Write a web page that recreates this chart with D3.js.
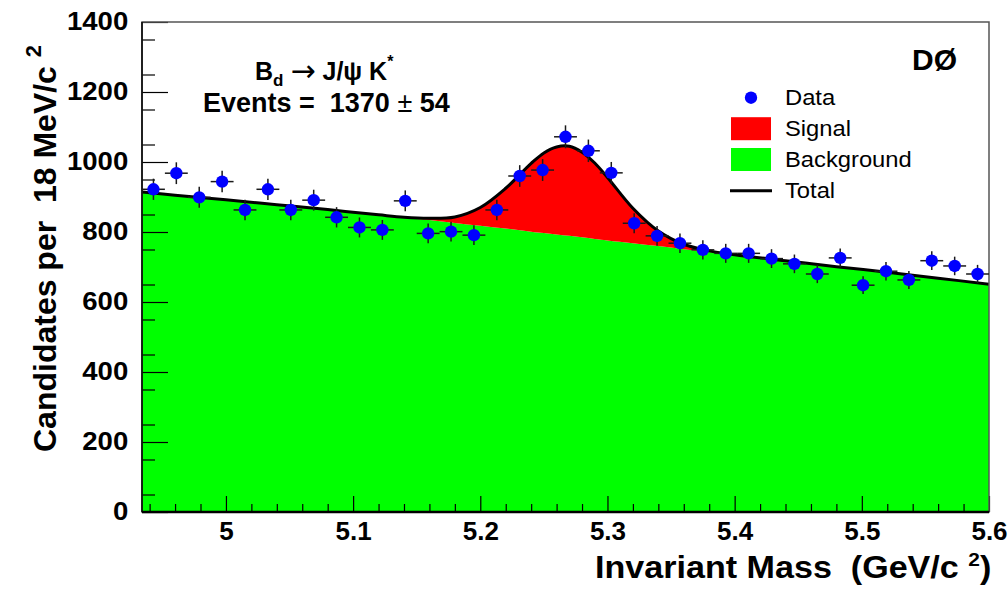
<!DOCTYPE html>
<html><head><meta charset="utf-8">
<script src="https://cdn.jsdelivr.net/npm/d3@7"></script>
<style>
html,body{margin:0;padding:0;background:#fff;}
svg{display:block;font-family:"Liberation Sans",Arial,Helvetica,sans-serif;}
text{white-space:pre;}
</style></head>
<body><svg id="c" width="1008" height="592"></svg>
<script>
// ---- data ----
const binWidth = 0.018;
const massMin = 4.934, massMax = 5.6;
// bin centres of the 37 data points (GeV/c^2)
const dataMass = [4.943,4.961,4.979,4.997,5.015,5.033,5.051,5.069,5.087,5.105,5.123,5.141,5.159,
  5.177,5.195,5.213,5.231,5.249,5.267,5.285,5.303,5.321,5.339,5.357,5.375,
  5.393,5.411,5.429,5.447,5.465,5.483,5.501,5.519,5.537,5.555,5.573,5.591];
const dataCounts = [922,968,899,944,863,922,863,891,842,813,806,889,796,
  801,791,863,960,977,1072,1032,969,825,789,768,749,
  739,739,724,709,680,726,648,688,663,718,703,680];
// fit curves
const fitMass = [4.934,4.96,5.0,5.04,5.08,5.12,5.14,5.16,5.18,5.20,5.22,5.24,5.25,5.26,5.27,5.28,5.29,5.30,5.32,5.34,5.36,5.38,5.40,5.44,5.48,5.52,5.56,5.60];
const fitBackground = [914,905,892,878,864,849,841,834,826,818,810,801,797,793,789,785,780,776,768,760,751,743,735,718,701,685,668,651];
const fitSignal = [0,0,0,0,0,0,1,5,17,52,115,195,229,250,256,243,217,180,100,43,14,3,0,0,0,0,0,0];
const xTicks = [5.0,5.1,5.2,5.3,5.4,5.5,5.6];
const xTickLabels = ["5","5.1","5.2","5.3","5.4","5.5","5.6"];
const yTicks = [0,200,400,600,800,1000,1200,1400];
const legendItems = ["Data","Signal","Background","Total"];

// ---- drawing ----
const svg = d3.select("#c");
const L=142, R=989, T=22, B=512;
const x = d3.scaleLinear().domain([massMin, massMax]).range([L, R]);
const y = d3.scaleLinear().domain([0, 1400]).range([B, T]);

svg.append("rect").attr("width",1008).attr("height",592).attr("fill","#fff");
svg.append("defs").append("clipPath").attr("id","plotclip")
  .append("rect").attr("x",L).attr("y",T).attr("width",R-L).attr("height",B-T);

const fit = fitMass.map((m,i)=>({m, bg:fitBackground[i], tot:fitBackground[i]+fitSignal[i]}));
const curve = d3.curveCatmullRom;
const g = svg.append("g").attr("clip-path","url(#plotclip)");
g.append("path").datum(fit)
  .attr("d", d3.area().x(d=>x(d.m)).y0(y(0)).y1(d=>y(d.bg)).curve(curve))
  .attr("fill","#00ff00");
g.append("path").datum(fit)
  .attr("d", d3.area().x(d=>x(d.m)).y0(d=>y(d.bg)).y1(d=>y(d.tot)).curve(curve))
  .attr("fill","#ff0000");
g.append("path").datum(fit)
  .attr("d", d3.line().x(d=>x(d.m)).y(d=>y(d.tot)).curve(curve))
  .attr("fill","none").attr("stroke","#000").attr("stroke-width",3);

// axes (ticks inside)
const xMinor = d3.range(4.94, 5.6001, 0.02).map(v=>+v.toFixed(2)).filter(v=>Math.abs(v*10-Math.round(v*10))>1e-6);
const yMinor = d3.range(50, 1400, 100);
const axStyle = sel => { sel.select(".domain").remove(); sel.selectAll(".tick line").attr("stroke","#000").attr("stroke-width",1.2); };

svg.append("g").attr("transform",`translate(0,${B})`)
  .call(d3.axisBottom(x).tickValues(xMinor).tickSize(-8).tickFormat(""))
  .call(axStyle);
const xa = svg.append("g").attr("transform",`translate(0,${B})`)
  .call(d3.axisBottom(x).tickValues(xTicks).tickSize(-16).tickPadding(10).tickFormat((d,i)=>xTickLabels[i]))
  .call(axStyle);
xa.selectAll(".tick text").attr("font-size",26).attr("font-weight","bold").attr("fill","#000")
  .attr("font-family","'Liberation Sans',Arial,sans-serif");

svg.append("g").attr("transform",`translate(${L},0)`)
  .call(d3.axisLeft(y).tickValues(yMinor).tickSize(-13).tickFormat(""))
  .call(axStyle);
const ya = svg.append("g").attr("transform",`translate(${L},0)`)
  .call(d3.axisLeft(y).tickValues(yTicks).tickSize(-26).tickPadding(13).tickFormat(d3.format("d")))
  .call(axStyle);
ya.selectAll(".tick text").attr("font-size",26).attr("font-weight","bold").attr("fill","#000")
  .attr("font-family","'Liberation Sans',Arial,sans-serif").attr("dy","0.28em")
  .attr("transform","scale(1.06,1)");

// frame
svg.append("rect").attr("x",L).attr("y",T).attr("width",R-L).attr("height",B-T)
  .attr("fill","none").attr("stroke","#555").attr("stroke-width",1.5);
svg.append("line").attr("x1",L).attr("x2",R).attr("y1",B).attr("y2",B).attr("stroke","#000").attr("stroke-width",2.5);
svg.append("line").attr("x1",L).attr("x2",L).attr("y1",T).attr("y2",B).attr("stroke","#000").attr("stroke-width",1.5);

// data points with error bars
const pts = dataMass.map((m,i)=>({m, n:dataCounts[i]}));
const pg = svg.append("g");
pg.selectAll("line.h").data(pts).join("line").attr("class","h")
  .attr("x1",d=>x(d.m-binWidth/2)).attr("x2",d=>x(d.m+binWidth/2))
  .attr("y1",d=>y(d.n)).attr("y2",d=>y(d.n)).attr("stroke","#1a1a1a").attr("stroke-width",1.5);
pg.selectAll("line.v").data(pts).join("line").attr("class","v")
  .attr("x1",d=>x(d.m)).attr("x2",d=>x(d.m))
  .attr("y1",d=>y(d.n-Math.sqrt(d.n))).attr("y2",d=>y(d.n+Math.sqrt(d.n))).attr("stroke","#1a1a1a").attr("stroke-width",1.5);
pg.selectAll("circle").data(pts).join("circle")
  .attr("cx",d=>x(d.m)).attr("cy",d=>y(d.n)).attr("r",6.2).attr("fill","#0000ff");

// titles
function stretched(parent, tx, ty, sx){
  return parent.append("text").attr("transform",`translate(${tx},${ty}) scale(${sx},1)`);
}
// x axis title
const xt = stretched(svg, 595, 578, 1.1).attr("font-size",31).attr("font-weight","bold");
xt.append("tspan").text("Invariant Mass  (GeV/c ");
xt.append("tspan").attr("font-size",19).attr("dy",-12).text("2");
xt.append("tspan").attr("dy",12).text(")");
// y axis title
const yt = svg.append("text").attr("transform","translate(56,452) rotate(-90)")
  .attr("font-size",32).attr("font-weight","bold");
yt.append("tspan").text("Candidates per  18 MeV/c ");
yt.append("tspan").attr("font-size",22).attr("dy",-15).text("2");

// decay label
const t1 = stretched(svg, 255, 80, 1.0).attr("font-size",25).attr("font-weight","bold");
t1.append("tspan").text("B");
t1.append("tspan").attr("font-size",17).attr("dy",6).text("d");
t1.append("tspan").attr("dy",-6).text(" ");
t1.append("tspan").attr("font-weight","normal").attr("font-family","'DejaVu Sans',sans-serif").attr("font-size",30).attr("dy",1).text("\u2192");
t1.append("tspan").attr("dy",-1).text(" J/\u03C8 K");
t1.append("tspan").attr("font-size",16).attr("dy",-13).text("*");
const t2 = stretched(svg, 203, 112, 1.0).attr("font-size",27).attr("font-weight","bold");
t2.append("tspan").text("Events =  1370 ");
t2.append("tspan").attr("font-weight","normal").text("\u00B1");
t2.append("tspan").text(" 54");

// experiment label
svg.append("text").attr("x",912).attr("y",70).attr("font-size",30).attr("font-weight","bold").text("D\u00D8");

// legend
const lg = svg.append("g");
const rowY = [97.7,128.7,159.5,190.7];
lg.append("circle").attr("cx",751).attr("cy",rowY[0]).attr("r",6.2).attr("fill","#0000ff");
lg.append("rect").attr("x",731).attr("y",rowY[1]-11.5).attr("width",40).attr("height",23).attr("fill","#ff0000");
lg.append("rect").attr("x",731).attr("y",rowY[2]-11.5).attr("width",40).attr("height",23).attr("fill","#00ff00");
lg.append("line").attr("x1",730).attr("x2",772).attr("y1",rowY[3]).attr("y2",rowY[3]).attr("stroke","#000").attr("stroke-width",3);
legendItems.forEach((s,i)=>{
  stretched(lg, 785, rowY[i]+7.5, 1.08).attr("font-size",22).text(s);
});
</script></body></html>
